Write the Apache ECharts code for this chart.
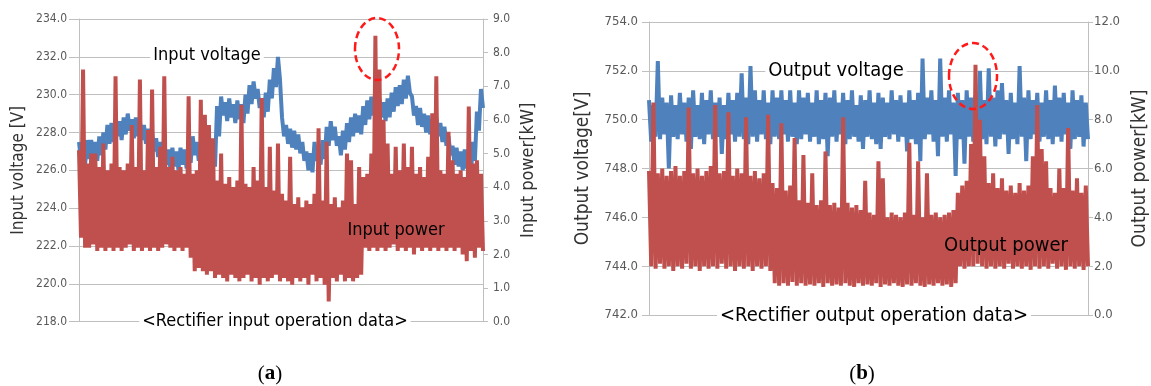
<!DOCTYPE html>
<html><head><meta charset="utf-8">
<script src="https://cdn.jsdelivr.net/npm/echarts@6/dist/echarts.min.js"></script>
<style>html,body{margin:0;padding:0;background:#fff}#c{width:1151px;height:386px}</style>
</head><body><div id="c"></div>
<script>
// ---- Panel (a): rectifier input (samples alternate upper / lower value of the dense trace)
const inputVoltage = [
227.5,226.5, 227.3,226.3, 227.6,226.6, 227.6,226.8, 227.5,226.5, 227.8,226.8, 228.0,227.1, 228.4,227.4, 228.5,227.5, 228.6,227.8,
228.6,227.6, 228.8,227.9, 229.0,228.1, 228.7,227.7, 228.8,227.8, 228.6,227.6, 228.4,227.4, 228.2,227.3, 228.0,227.0, 227.7,226.7,
227.5,226.5, 227.3,226.3, 227.1,226.1, 227.2,226.2, 227.0,226.0, 227.2,226.3, 227.1,226.1, 227.4,226.4, 227.8,226.8, 227.5,226.5,
227.4,226.4, 227.1,226.1, 227.5,226.4, 227.3,226.2, 229.4,227.8, 229.9,228.9, 229.6,228.6, 229.8,228.8, 229.5,228.5, 229.7,228.7,
229.5,228.5, 230.0,229.0, 230.5,229.5, 230.7,229.8, 230.3,229.3, 229.8,228.8, 230.1,229.1, 230.8,229.8, 231.4,230.4, 232.0,230.8,
228.8,227.8, 228.4,227.4, 228.2,227.2, 228.1,227.1, 227.9,226.9, 227.5,226.5, 227.0,226.0, 226.9,225.9, 227.5,226.5, 227.3,226.3,
227.6,226.6, 228.3,227.3, 228.6,227.6, 228.3,227.3, 227.8,226.8, 228.1,227.1, 228.5,227.5, 228.8,227.8, 229.0,228.0, 228.9,227.9,
229.4,228.4, 229.7,228.7, 229.9,228.9, 230.3,229.3, 229.8,228.8, 229.6,228.6, 229.8,228.8, 230.1,229.1, 230.4,229.4, 230.5,229.5,
230.8,229.8, 231.0,230.1, 229.9,228.9, 229.4,228.4, 229.3,228.3, 229.0,228.0, 228.9,227.9, 228.7,227.7, 228.8,227.8, 228.5,227.5,
228.3,227.3, 227.8,226.8, 227.3,226.3, 227.2,226.2, 227.0,226.0, 227.1,226.1, 226.7,225.7, 227.5,226.5, 229.1,228.1, 230.3,229.3
];
const inputPower = [
5.1,2.5, 7.5,2.2, 4.7,2.2, 5.0,2.3, 5.0,2.1, 4.6,2.2, 5.3,2.1, 4.5,2.2, 4.7,2.1, 7.3,2.2,
4.6,2.1, 4.5,2.2, 4.7,2.3, 5.85,2.1, 4.6,2.2, 7.2,2.1, 4.5,2.2, 5.7,2.1, 6.9,2.2, 4.6,2.1,
5.2,2.2, 7.3,2.3, 4.6,2.2, 4.9,2.1, 4.5,2.2, 4.6,2.1, 4.4,2.2, 6.7,1.9, 4.4,1.5, 4.5,1.6,
6.6,1.5, 6.15,1.4, 5.85,1.5, 5.45,1.3, 4.2,1.4, 5.0,1.3, 4.1,1.2, 4.3,1.4, 4.0,1.3, 4.2,1.2,
6.45,1.3, 4.1,1.4, 4.0,1.2, 4.6,1.3, 4.2,1.1, 6.65,1.3, 4.0,1.2, 5.2,1.3, 3.9,1.4, 5.3,1.2,
3.8,1.3, 3.6,1.2, 4.9,1.1, 3.5,1.3, 3.7,1.2, 3.4,1.3, 3.6,1.1, 3.5,1.4, 3.8,1.2, 5.75,1.3,
3.6,1.1, 5.35,0.6, 3.5,1.3, 3.7,1.2, 3.4,1.4, 3.6,1.2, 5.0,1.3, 4.8,1.2, 3.5,1.3, 4.6,1.4,
4.3,2.2, 4.4,2.1, 5.0,2.2, 8.5,2.1, 7.5,2.2, 6.0,2.1, 5.3,2.2, 4.4,2.3, 5.2,2.1, 4.5,2.2,
5.3,2.1, 4.6,2.2, 5.2,2.0, 4.4,2.2, 4.6,2.1, 4.3,2.2, 4.9,2.1, 6.2,2.2, 7.3,2.1, 4.5,2.2,
4.4,2.1, 5.65,2.2, 4.8,2.1, 4.4,2.2, 4.5,2.0, 4.3,1.8, 6.4,2.1, 4.7,1.9, 4.8,2.2, 4.4,2.1
];
// ---- Panel (b): rectifier output
const outputVoltage = [
750.8,749.1, 750.6,749.3, 752.4,749.2, 750.9,749.4, 750.7,748.0, 751.0,749.3, 750.6,749.2, 751.1,749.4, 750.7,749.1, 750.9,748.8,
751.2,749.3, 750.6,749.2, 751.1,749.0, 750.8,749.4, 751.2,749.2, 750.7,749.3, 750.9,748.6, 750.6,749.2, 751.1,749.4, 750.8,749.1,
751.1,749.3, 751.9,749.2, 750.9,749.0, 752.2,749.3, 751.2,749.1, 750.8,749.4, 751.2,749.2, 750.7,749.0, 751.2,749.3, 750.9,749.2,
751.2,749.4, 750.8,749.1, 751.2,749.3, 750.7,749.0, 751.2,749.2, 750.9,749.4, 751.1,749.1, 750.7,749.3, 751.2,749.0, 750.8,749.2,
751.1,748.5, 750.9,749.3, 751.2,749.1, 750.7,749.4, 751.1,749.0, 750.8,749.2, 751.2,749.3, 750.6,749.1, 751.0,748.8, 750.8,749.3,
751.2,749.2, 750.7,749.0, 751.1,748.8, 750.9,749.3, 750.7,749.2, 751.2,749.4, 750.8,749.1, 751.0,749.3, 750.7,748.7, 751.2,749.2,
750.8,749.0, 751.1,748.3, 752.5,749.2, 750.9,749.4, 751.2,749.1, 750.8,748.5, 752.5,749.3, 750.9,749.1, 751.2,749.4, 750.7,747.7,
751.1,749.2, 750.8,748.2, 751.2,749.3, 750.9,749.1, 751.0,749.4, 752.0,749.2, 750.8,749.0, 752.1,749.3, 750.9,748.9, 751.2,749.2,
751.5,749.4, 750.8,748.6, 751.1,749.2, 750.7,749.0, 752.2,749.3, 750.9,748.3, 751.2,749.2, 750.8,749.4, 751.1,749.1, 750.7,749.3,
751.2,749.2, 750.8,749.0, 751.4,749.3, 750.9,749.1, 751.1,749.4, 750.7,748.8, 751.2,749.2, 750.8,749.3, 751.0,748.9, 750.7,749.2
];
const outputPower = [
5.9,2.0, 8.7,1.9, 5.8,2.1, 6.0,1.9, 5.7,2.0, 5.9,1.8, 6.1,2.0, 5.7,1.9, 5.9,2.1, 8.5,1.9,
5.8,2.0, 6.0,1.8, 5.7,2.0, 5.9,1.9, 6.1,2.0, 8.6,1.9, 5.8,2.1, 5.9,1.9, 8.3,2.0, 5.7,1.8,
6.0,2.0, 5.8,1.9, 8.1,2.0, 5.7,1.8, 5.9,2.0, 5.6,1.9, 5.8,2.0, 8.2,1.8, 5.4,1.3, 5.2,1.2,
7.85,1.3, 5.1,1.2, 5.3,1.35, 7.25,1.2, 4.7,1.3, 6.55,1.2, 4.6,1.25, 5.8,1.2, 4.5,1.3, 4.7,1.15,
6.7,1.3, 4.5,1.2, 4.6,1.25, 4.4,1.2, 8.1,1.3, 4.6,1.2, 4.4,1.15, 4.5,1.3, 4.3,1.2, 5.5,1.25,
4.2,1.2, 4.1,1.3, 6.3,1.15, 5.6,1.25, 4.0,1.2, 4.2,1.3, 4.1,1.2, 4.0,1.15, 4.2,1.25, 7.05,1.2,
4.1,1.3, 6.3,1.2, 4.0,1.15, 5.8,1.25, 4.1,1.2, 4.2,1.3, 4.0,1.2, 4.1,1.25, 4.2,1.15, 4.3,1.3,
5.0,2.0, 5.3,1.9, 5.5,2.0, 7.0,2.0, 10.25,2.1, 8.0,2.0, 6.5,1.9, 5.4,2.0, 5.8,1.9, 5.2,2.0,
5.6,1.9, 5.1,2.1, 5.3,1.9, 5.0,2.0, 5.4,1.9, 5.1,2.0, 5.3,1.85, 6.5,2.0, 8.6,1.9, 6.8,2.0,
6.3,1.9, 5.2,2.1, 5.0,1.9, 6.0,2.0, 5.2,1.85, 7.66,2.0, 5.1,1.9, 5.6,2.0, 5.0,1.85, 5.3,2.0
];
// ---- Tick labels
const inputVoltageTicks = [218, 220, 222, 224, 226, 228, 230, 232, 234];
const inputPowerTicks = [0, 1, 2, 3, 4, 5, 6, 7, 8, 9];
const outputVoltageTicks = [742, 744, 746, 748, 750, 752, 754];
const outputPowerTicks = [0, 2, 4, 6, 8, 10, 12];

const sampleIds = inputPower.map((_, i) => i + 1);
const SANS = "'Liberation Sans Narrow','DejaVu Sans Condensed','Liberation Sans',sans-serif";
const SERIF = "'Liberation Serif','DejaVu Serif',serif";
const GRID_C = '#bfbfbf', LABEL_C = '#595959';
const BLUE = '#4F81BD', RED = '#C0504D';

function yAx(grid, ticks, pos, name, opt) {
  return {
    gridIndex: grid, type: 'value', position: pos,
    min: ticks[0], max: ticks[ticks.length - 1], interval: ticks[1] - ticks[0],
    axisLine: { show: true, lineStyle: { color: GRID_C, width: 1 } },
    axisTick: { show: true, length: opt.tick, lineStyle: { color: GRID_C } },
    axisLabel: { formatter: v => v.toFixed(1), color: LABEL_C, fontSize: opt.fs, fontFamily: SANS, margin: opt.margin },
    splitLine: { show: pos === 'left', lineStyle: { color: GRID_C, width: 1 } },
    name: name, nameLocation: 'middle', nameGap: opt.gap, nameRotate: 90,
    nameTextStyle: { color: '#333', fontSize: opt.nfs, fontFamily: SANS }
  };
}
function xAx(grid) {
  return {
    gridIndex: grid, type: 'category', data: sampleIds, boundaryGap: false,
    axisLine: { show: true, lineStyle: { color: GRID_C } }, axisTick: { show: false },
    axisLabel: { show: false }, splitLine: { show: false }
  };
}
function ser(x, y, data, color) {
  return { type: 'line', xAxisIndex: x, yAxisIndex: y, data: data, symbol: 'none', silent: true,
    lineStyle: { color: color, width: 4, join: 'bevel' }, animation: false };
}
function txt(x, y, s, size, bg) {
  const st = { text: s, font: size + 'px ' + SANS, fill: '#000', align: 'center', verticalAlign: 'middle',
    textAlign: 'center', textVerticalAlign: 'middle' };
  if (bg) { st.backgroundColor = '#fff'; st.padding = [1, 3]; }
  return { type: 'text', x: x, y: y, z: 100, style: st };
}
function ell(cx, cy, rx, ry) {
  return { type: 'ellipse', z: 100, shape: { cx: cx, cy: cy, rx: rx, ry: ry },
    style: { fill: null, stroke: '#ff1a1a', lineWidth: 2.5, lineDash: [7, 4] } };
}
function panelLabel(x, y, letter) {
  return { type: 'text', x: x, y: y, z: 100, style: {
    text: '{p|(}{b|' + letter + '}{p|)}', align: 'center', verticalAlign: 'middle',
    textAlign: 'center', textVerticalAlign: 'middle',
    rich: { p: { font: '21px ' + SERIF, fill: '#000' }, b: { font: 'bold 21px ' + SERIF, fill: '#000' } } } };
}

const chart = echarts.init(document.getElementById('c'), null, { renderer: 'canvas' });
chart.setOption({
  animation: false,
  backgroundColor: '#fff',
  grid: [
    { left: 79, top: 19, width: 404, height: 302.7 },
    { left: 649, top: 22, width: 441, height: 293 }
  ],
  xAxis: [xAx(0), xAx(1)],
  yAxis: [
    yAx(0, inputVoltageTicks, 'left', 'Input voltage [V]', { tick: 10, fs: 12, margin: 12, gap: 52, nfs: 17 }),
    yAx(0, inputPowerTicks, 'right', 'Input power[kW]', { tick: 5, fs: 12, margin: 10, gap: 36, nfs: 18 }),
    yAx(1, outputVoltageTicks, 'left', 'Output voltage[V]', { tick: 7, fs: 13, margin: 11, gap: 56, nfs: 19 }),
    yAx(1, outputPowerTicks, 'right', 'Output power[kW]', { tick: 5, fs: 13, margin: 6, gap: 43, nfs: 19 })
  ],
  series: [
    ser(0, 0, inputVoltage, BLUE),
    ser(0, 1, inputPower, RED),
    ser(1, 2, outputVoltage, BLUE),
    ser(1, 3, outputPower, RED)
  ],
  graphic: [
    txt(207, 55, 'Input voltage', 18, true),
    txt(396, 230, 'Input power', 18, false),
    txt(275, 321, '<Rectifier input operation data>', 18, true),
    txt(836, 71, 'Output voltage', 20, true),
    txt(1006, 246, 'Output power', 20, false),
    txt(874, 316, '<Rectifier output operation data>', 20, true),
    ell(377, 49, 22, 31),
    ell(973, 76, 24, 33),
    panelLabel(270, 374, 'a'),
    panelLabel(862, 374, 'b')
  ]
});
</script></body></html>
